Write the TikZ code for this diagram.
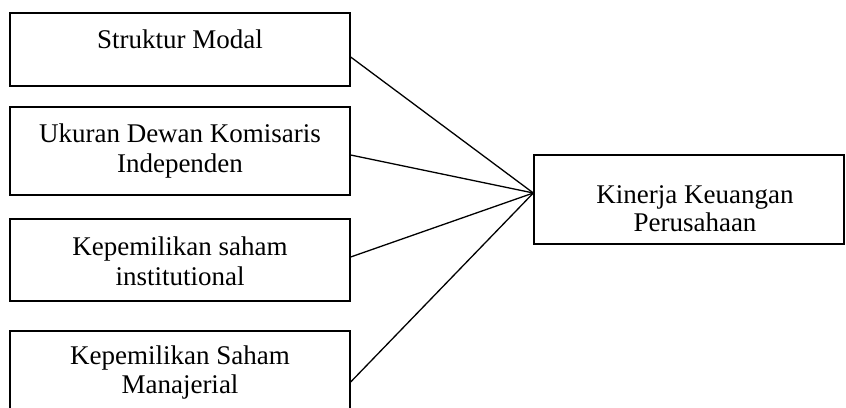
\documentclass[tikz,border=0pt]{standalone}
\usepackage{fontspec}
\setmainfont{Liberation Serif}
\begin{document}
\begin{tikzpicture}[x=1pt,y=-1pt,
  box/.style={draw=black,line width=1.3pt,rectangle,inner sep=0pt},
  lbl/.style={anchor=base,inner sep=0pt,font=\fontsize{27}{30}\selectfont},
  conn/.style={draw=black,line width=1.3pt}]
\clip (0,0) rectangle (846,407);
\useasboundingbox (0,0) rectangle (846,407);
% left boxes
\node[box,minimum width=340pt,minimum height=73pt] (b1) at (180,49.5) {};
\node[box,minimum width=340pt,minimum height=88pt] (b2) at (180,151) {};
\node[box,minimum width=340pt,minimum height=82pt] (b3) at (180,260) {};
\node[box,minimum width=340pt,minimum height=100pt] (b4) at (180,381) {};
% right box
\node[box,minimum width=310pt,minimum height=89pt] (r) at (689,199.5) {};
% labels
\node[lbl] (t1) at (180,48) {Struktur Modal};
\node[lbl] (t2a) at (180,142) {Ukuran Dewan Komisaris};
\node[lbl] (t2b) at (180,172) {Independen};
\node[lbl] (t3a) at (180,255) {Kepemilikan saham};
\node[lbl] (t3b) at (180,285) {institutional};
\node[lbl] (t4a) at (180,364) {Kepemilikan Saham};
\node[lbl] (t4b) at (180,393) {Manajerial};
\node[lbl] (r1) at (695,203) {Kinerja Keuangan};
\node[lbl] (r2) at (695,231) {Perusahaan};
% connectors
\draw[conn] ([yshift=-7.5pt]b1.east) -- ([yshift=6.5pt]r.west);
\draw[conn] ([yshift=-4pt]b2.east) -- ([yshift=6.5pt]r.west);
\draw[conn] ([yshift=3pt]b3.east) -- ([yshift=6.5pt]r.west);
\draw[conn] ([yshift=-1pt]b4.east) -- ([yshift=6.5pt]r.west);
\end{tikzpicture}
\end{document}
